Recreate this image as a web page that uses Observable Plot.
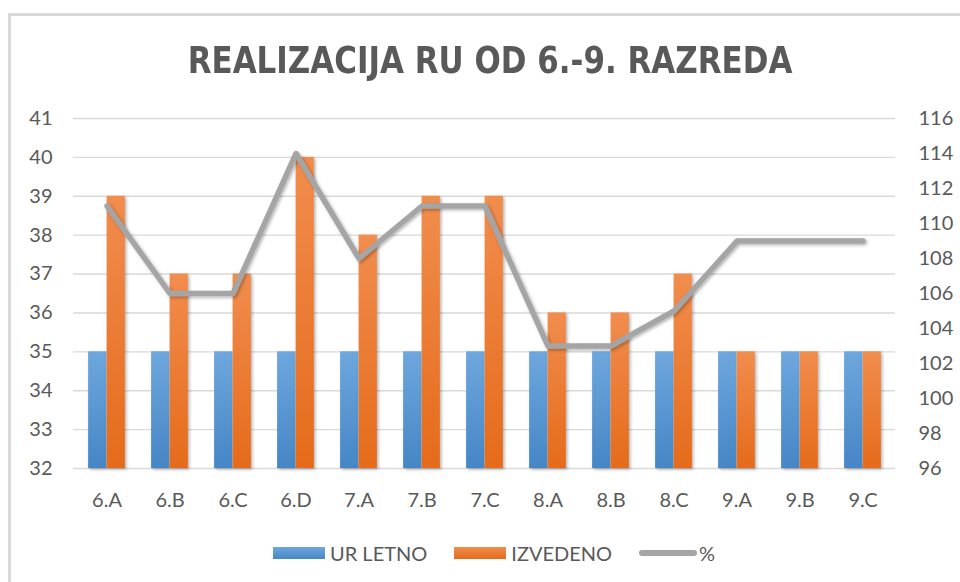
<!DOCTYPE html>
<html>
<head>
<meta charset="utf-8">
<script src="https://cdn.jsdelivr.net/npm/d3@7"></script>
<script src="https://cdn.jsdelivr.net/npm/@observablehq/plot@0.6"></script>
<style>
  body { margin: 0; background: #fff; }
  #wrap { position: relative; width: 960px; height: 582px; overflow: hidden; font-family: Lato, "Open Sans", sans-serif; }
  #frame { position: absolute; left: 8px; top: 13px; width: 1000px; height: 1000px; border: 3px solid #d9d9d9; box-sizing: border-box; }
  #chart { position: absolute; left: 0; top: 0; }
  #title { position: absolute; left: 0; width: 980px; top: 39px; text-align: center; font-weight: bold; font-size: 37px; font-family: "Liberation Sans Narrow", "DejaVu Sans Condensed", sans-serif; color: #595959; white-space: nowrap; line-height: 1.2; transform: scaleX(0.93); transform-origin: 490px 0; }
  #legend { position: absolute; top: 540px; left: 273px; display: flex; align-items: center; font-size: 20px; color: #595959; height: 26px; }
  .sw { display: inline-block; width: 52px; height: 12px; margin-right: 5px; }
  .item { display: flex; align-items: center; margin-right: 27px; }
  .ln { display: inline-block; width: 58px; height: 6px; border-radius: 3px; background: #a5a5a5; margin-right: 2px; }
</style>
</head>
<body>
<div id="wrap">
  <div id="frame"></div>
  <div id="chart"></div>
  <div id="title">REALIZACIJA RU OD 6.-9. RAZREDA</div>
  <div id="legend"></div>
</div>
<script>
const categories = ["6.A","6.B","6.C","6.D","7.A","7.B","7.C","8.A","8.B","8.C","9.A","9.B","9.C"];
const urLetno  = [35,35,35,35,35,35,35,35,35,35,35,35,35];
const izvedeno = [39,37,37,40,38,39,39,36,36,37,35,35,35];
const percent  = [111,106,106,114,108,111,111,103,103,105,109,109,109];
const leftTicks  = [32,33,34,35,36,37,38,39,40,41];
const rightTicks = [96,98,100,102,104,106,108,110,112,114,116];
const seriesNames = ["UR LETNO","IZVEDENO","%"];

const L0 = leftTicks[0], L1 = leftTicks[leftTicks.length-1];
const R0 = rightTicks[0], R1 = rightTicks[rightTicks.length-1];
const toLeft = p => L0 + (p - R0) * (L1 - L0) / (R1 - R0);
const fromLeft = v => Math.round(R0 + (v - L0) * (R1 - R0) / (L1 - L0));

const W = 960, H = 582, mL = 73, mR = 65, mT = 118, mB = 114;
const bw = (W - mL - mR) / categories.length;
const half = bw / 2;
const barW = 18.5;

const rows = categories.map((c, i) => ({c, ur: urLetno[i], iz: izvedeno[i], p: toLeft(percent[i])}));

const svg = Plot.plot({
  width: W, height: H,
  marginLeft: mL, marginRight: mR, marginTop: mT, marginBottom: mB,
  style: {fontFamily: "Lato, 'Open Sans', sans-serif", fontSize: "20px", color: "#595959", background: "transparent", overflow: "visible"},
  x: {domain: categories, padding: 0},
  y: {domain: [L0, L1]},
  marks: [
    Plot.gridY(leftTicks, {stroke: "#d9d9d9", strokeOpacity: 1, strokeWidth: 1.4}),
    Plot.barY(rows, {x: "c", y1: L0, y2: "ur", fill: "url(#gBlue)", insetLeft: half - barW, insetRight: half}),
    Plot.barY(rows, {x: "c", y1: L0, y2: "iz", fill: "url(#gOrange)", insetLeft: half, insetRight: half - barW}),
    Plot.line(rows, {x: "c", y: "p", stroke: "#a5a5a5", strokeWidth: 5.5, strokeLinejoin: "round", strokeLinecap: "round"}),
    Plot.axisX({tickSize: 0, tickPadding: 24, label: null}),
    Plot.axisY({anchor: "left", ticks: leftTicks, tickSize: 0, tickPadding: 21, label: null}),
    Plot.axisY({anchor: "right", ticks: rightTicks.map(toLeft), tickFormat: fromLeft, tickSize: 0, tickPadding: 23, label: null})
  ]
});

const s = d3.select(svg);
const defs = s.insert("defs", ":first-child");
const g1 = defs.append("linearGradient").attr("id", "gBlue").attr("x1", 0).attr("y1", 0).attr("x2", 0).attr("y2", 1);
g1.append("stop").attr("offset", "0%").attr("stop-color", "#6ea7dd");
g1.append("stop").attr("offset", "100%").attr("stop-color", "#4686c6");
const g2 = defs.append("linearGradient").attr("id", "gOrange").attr("x1", 0).attr("y1", 0).attr("x2", 0).attr("y2", 1);
g2.append("stop").attr("offset", "0%").attr("stop-color", "#f18d4e");
g2.append("stop").attr("offset", "100%").attr("stop-color", "#e56b1b");
const f = defs.append("filter").attr("id", "shadow").attr("x", "-20%").attr("y", "-20%").attr("width", "140%").attr("height", "140%");
f.append("feDropShadow").attr("dx", 1.5).attr("dy", 1.5).attr("stdDeviation", 1.8).attr("flood-color", "#000").attr("flood-opacity", 0.3);
s.selectAll("g[aria-label='bar'], g[aria-label='line']").attr("filter", "url(#shadow)");

document.getElementById("chart").appendChild(svg);

const legend = document.getElementById("legend");
const colors = ["linear-gradient(#6ea7dd,#4686c6)", "linear-gradient(#f18d4e,#e56b1b)"];
seriesNames.forEach((name, i) => {
  const item = document.createElement("div");
  item.className = "item";
  const sw = document.createElement("span");
  if (i < 2) { sw.className = "sw"; sw.style.background = colors[i]; }
  else { sw.className = "ln"; }
  item.appendChild(sw);
  const t = document.createElement("span");
  t.textContent = name;
  item.appendChild(t);
  legend.appendChild(item);
});
</script>
</body>
</html>
